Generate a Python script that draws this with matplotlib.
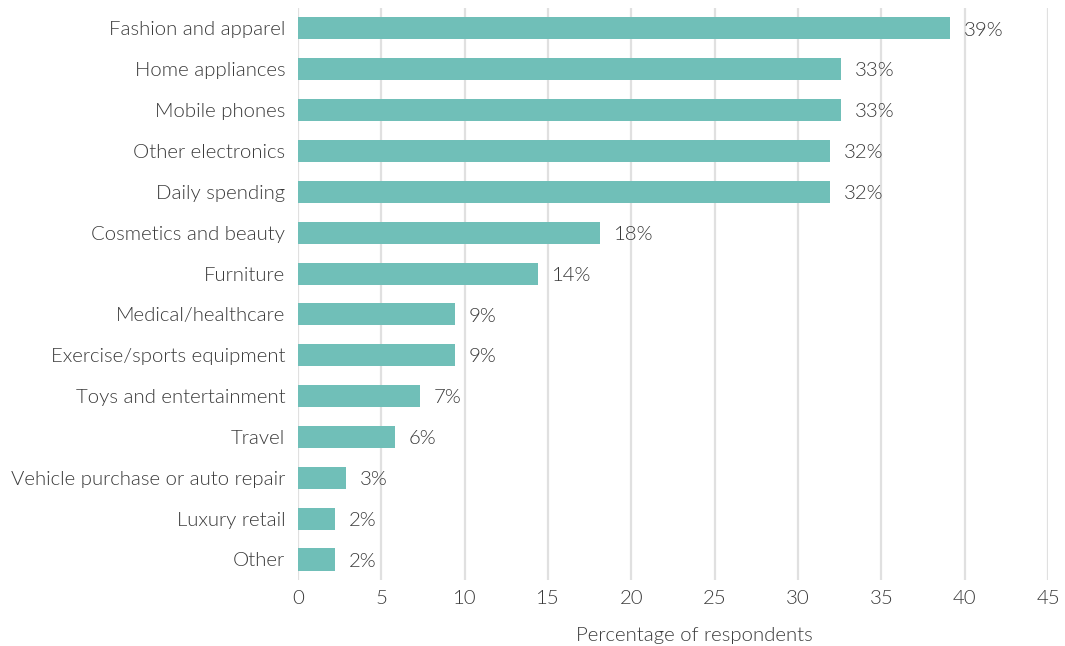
import numpy as np
import matplotlib.pyplot as plt

plt.rcParams['font.family'] = ['Lato', 'DejaVu Sans']
plt.rcParams['font.weight'] = 300
plt.rcParams['axes.labelweight'] = 300

categories = [
    "Fashion and apparel",
    "Home appliances",
    "Mobile phones",
    "Other electronics",
    "Daily spending",
    "Cosmetics and beauty",
    "Furniture",
    "Medical/healthcare",
    "Exercise/sports equipment",
    "Toys and entertainment",
    "Travel",
    "Vehicle purchase or auto repair",
    "Luxury retail",
    "Other",
]
shares = [39.1, 32.6, 32.6, 31.9, 31.9, 18.1, 14.4, 9.4, 9.4, 7.3, 5.8, 2.9, 2.2, 2.2]
x_ticks = [0, 5, 10, 15, 20, 25, 30, 35, 40, 45]

text_color = "#3a3a3a"
bar_color = "#70bfb8"
fs = 14.7

fig = plt.figure(figsize=(10.65, 6.46), dpi=100)
ax = fig.add_axes([0.2798, 0.1023, 0.7042, 0.8853])

y = np.arange(len(categories))
ax.barh(y, shares, height=0.54, color=bar_color, zorder=2)

# value labels just past the end of each bar
for yi, v in zip(y, shares):
    ax.annotate(f"{v:.0f}%", xy=(v, yi), xytext=(10, -1.2), textcoords="offset points",
                va="center", ha="left", fontsize=fs, fontweight=300,
                color=text_color, zorder=3)

ax.set_xlim(0, 45)
ax.set_ylim(13.5, -0.5)
ax.set_xticks(x_ticks)
ax.set_yticks(y)
ax.set_yticklabels(categories)
ax.tick_params(axis="both", length=0, labelsize=fs, labelcolor=text_color)
ax.tick_params(axis="y", pad=9.2)
ax.tick_params(axis="x", pad=7)
for lbl in ax.get_xticklabels() + ax.get_yticklabels():
    lbl.set_fontweight(300)

ax.grid(axis="x", color="#e0e0e0", linewidth=1.6, zorder=0)
ax.set_axisbelow(True)
for s in ax.spines.values():
    s.set_visible(False)

ax.set_xlabel("Percentage of respondents", fontsize=fs, fontweight=300, color=text_color)
ax.xaxis.set_label_coords(0.529, -0.082)

fig.savefig("out.png", dpi=100)
